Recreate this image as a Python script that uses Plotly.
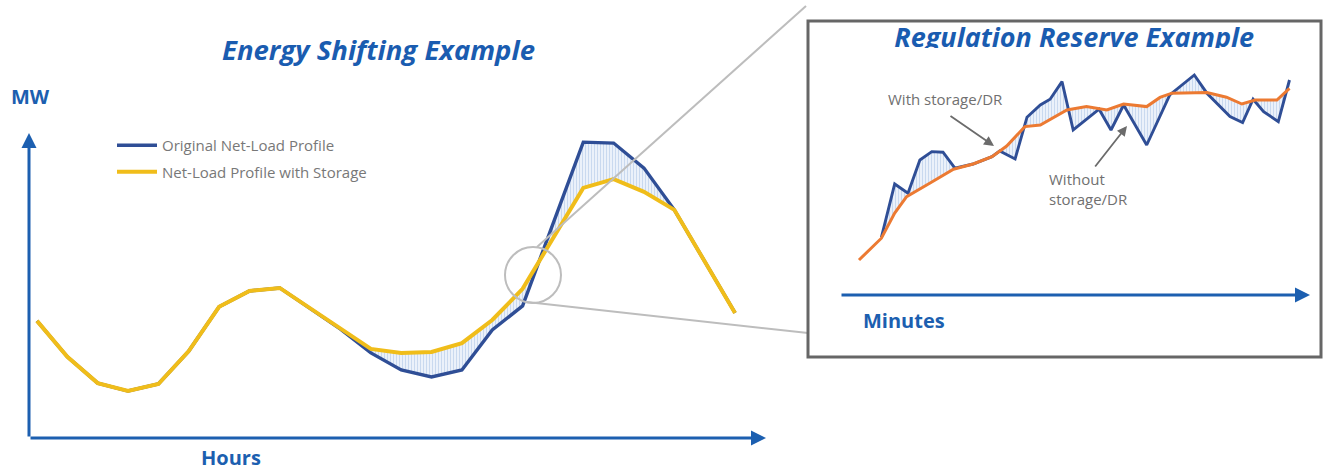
import plotly.graph_objects as go

# ---- Energy shifting (hourly net load, MW index) ----
hours = list(range(24))
net_load_original = [38.4, 26.6, 18.0, 15.4, 17.7, 28.5, 43.0, 48.2, 49.2, 42.6, 35.7,
                     27.9, 22.3, 20.0, 22.3, 35.4, 43.3, 70.2, 97.0, 96.7, 88.5, 74.8, 58.0, 41.0]
net_load_storage = [38.4, 26.6, 18.0, 15.4, 17.7, 28.5, 43.0, 48.2, 49.2, 42.6, 35.7,
                    29.2, 27.9, 28.2, 31.1, 38.7, 48.9, 65.6, 82.0, 84.9, 80.7, 74.8, 58.0, 41.0]

# ---- Regulation reserve (minute-level load) ----
minutes_with = [0.0, 3.2, 5.1, 6.8, 10.1, 13.5, 16.3, 19.0, 21.1, 23.7, 25.9, 29.7, 32.5,
                35.4, 37.8, 41.1, 43.0, 44.7, 49.7, 52.5, 54.7, 56.6, 59.7, 61.5]
load_with = [20.0, 30.9, 43.5, 51.7, 58.4, 65.4, 68.0, 71.7, 77.0, 86.7, 87.5, 95.0, 96.7,
             95.0, 98.0, 96.7, 101.3, 103.4, 103.7, 101.4, 98.0, 100.0, 100.0, 105.8]
minutes_without = [3.2, 5.1, 7.0, 8.7, 10.4, 12.0, 13.7, 16.3, 19.0, 20.1, 22.3, 24.0, 25.9,
                   27.3, 29.0, 30.6, 34.3, 36.0, 37.8, 41.1, 44.4, 46.3, 47.9, 49.7, 53.0,
                   54.8, 56.3, 57.8, 59.9, 61.5]
load_without = [31.3, 58.0, 53.4, 70.0, 74.2, 73.9, 65.9, 68.0, 71.7, 74.5, 70.5, 91.4, 97.5,
                100.4, 109.2, 85.0, 95.4, 85.0, 97.5, 77.5, 102.5, 108.0, 112.5, 103.4, 91.7,
                88.7, 100.4, 94.2, 89.2, 110.0]

W, H = 1330, 471
AXIS_BLUE = "#1c5fb0"
TITLE_BLUE = "#1a5cb0"
NAVY = "#2f4e96"
GOLD = "#f0bd1a"
ORANGE = "#ec7a32"
GREY_TXT = "#707070"
HATCH = dict(shape="|", fgcolor="rgba(120,160,215,0.6)", bgcolor="rgba(222,232,247,0.6)",
             size=3, solidity=0.35)


def px(x):
    return x / W


def py(y):
    return 1 - y / H


fig = go.Figure()

# left panel: hourly profiles (hatched band drawn by a line-less helper trace)
fig.add_trace(go.Scatter(x=hours, y=net_load_original, mode="lines", name="Original Net-Load Profile",
                         line=dict(color=NAVY, width=3.4), xaxis="x", yaxis="y", legendgroup="a"))
fig.add_trace(go.Scatter(x=hours, y=net_load_storage, mode="lines", showlegend=False, hoverinfo="skip",
                         line=dict(width=0), fill="tonexty", fillcolor="rgba(0,0,0,0)",
                         fillpattern=HATCH, xaxis="x", yaxis="y"))
fig.add_trace(go.Scatter(x=hours, y=net_load_storage, mode="lines", name="Net-Load Profile with Storage",
                         line=dict(color=GOLD, width=4), xaxis="x", yaxis="y", legendgroup="b"))

# right panel: minute-level profiles
fig.add_trace(go.Scatter(x=minutes_without, y=load_without, mode="lines", showlegend=False,
                         line=dict(color=NAVY, width=2.9), xaxis="x2", yaxis="y2"))
fig.add_trace(go.Scatter(x=minutes_with, y=load_with, mode="lines", showlegend=False,
                         line=dict(color=ORANGE, width=3), fill="tonexty", fillcolor="rgba(0,0,0,0)",
                         fillpattern=HATCH, xaxis="x2", yaxis="y2"))

# right panel title, clipped along its baseline by its own small axes box
fig.add_trace(go.Scatter(x=[0.519], y=[0.31], mode="text", text=["<b><i>Regulation Reserve Example</i></b>"],
                         textposition="middle center", showlegend=False, cliponaxis=True, hoverinfo="skip",
                         textfont=dict(family="Open Sans", size=27, color=TITLE_BLUE),
                         xaxis="x3", yaxis="y3"))

hidden = dict(showgrid=False, zeroline=False, showticklabels=False, showline=False, ticks="")

fig.update_layout(
    width=W, height=H, margin=dict(l=0, r=0, t=0, b=0),
    paper_bgcolor="white", plot_bgcolor="rgba(0,0,0,0)",
    font=dict(family="Open Sans", color=GREY_TXT),
    xaxis=dict(domain=[px(29), px(766)], range=[-0.2636, 24.02], **hidden),
    yaxis=dict(domain=[py(438), py(133)], range=[0, 100], **hidden),
    xaxis2=dict(domain=[px(840), px(1305)], range=[(840 - 859) / 7, (1305 - 859) / 7],
                anchor="y2", **hidden),
    yaxis2=dict(domain=[py(300), py(60)], range=[0, 120], anchor="x2", **hidden),
    xaxis3=dict(domain=[px(811), px(1318)], range=[0, 1], anchor="y3", **hidden),
    yaxis3=dict(domain=[py(48), py(24)], range=[0, 1], anchor="x3", **hidden),
    showlegend=True,
    legend=dict(x=px(112), y=py(129), xanchor="left", yanchor="top", bgcolor="rgba(0,0,0,0)",
                font=dict(family="Open Sans", size=15, color="#787878"), tracegroupgap=4,
                itemwidth=40),
)

shapes = [
    # zoom lens and connector lines
    dict(type="circle", xref="paper", yref="paper", x0=px(505), x1=px(561), y0=py(303), y1=py(247),
         line=dict(color="#bdbdbd", width=2)),
    dict(type="line", xref="paper", yref="paper", x0=px(537), y0=py(247), x1=px(806), y1=py(6),
         line=dict(color="#bdbdbd", width=2)),
    dict(type="line", xref="paper", yref="paper", x0=px(527), y0=py(302), x1=px(808), y1=py(333),
         line=dict(color="#bdbdbd", width=2)),
    # inset frame
    dict(type="rect", xref="paper", yref="paper", x0=px(808), x1=px(1321), y0=py(357), y1=py(21),
         line=dict(color="#666666", width=3), fillcolor="rgba(0,0,0,0)"),
]
fig.update_layout(shapes=shapes)

ann = []


def arrow(x0, y0, x1, y1, color, width, size):
    ann.append(dict(xref="paper", yref="paper", x=px(x1), y=py(y1), ax=x0 - x1, ay=y0 - y1,
                    text="", showarrow=True, arrowhead=2, arrowsize=size, arrowwidth=width,
                    arrowcolor=color))


def label(x, y, text, size, color=GREY_TXT, anchor="left", yanchor="middle"):
    ann.append(dict(xref="paper", yref="paper", x=px(x), y=py(y), text=text, showarrow=False,
                    xanchor=anchor, yanchor=yanchor, align="left",
                    font=dict(family="Open Sans", size=size, color=color)))


# axes with arrowheads
arrow(29, 438, 766, 438, AXIS_BLUE, 3, 1.0)
arrow(29, 438, 29, 133, AXIS_BLUE, 3, 1.0)
arrow(840, 295, 1310, 295, AXIS_BLUE, 3, 1.0)

# callouts in the inset
arrow(949, 115, 994, 146, "#6b6b6b", 1.8, 1.1)
arrow(1094, 168, 1127, 126, "#6b6b6b", 1.8, 1.1)
label(886, 99, "With storage/DR", 15)
label(1047, 189, "Without<br>storage/DR", 15)

# titles and axis names
label(378, 50, "<b><i>Energy Shifting Example</i></b>", 27.5, TITLE_BLUE, anchor="center")
label(9, 97, "<b>MW</b>", 20, AXIS_BLUE)
label(231, 473, "<b>Hours</b>", 20, AXIS_BLUE, anchor="center", yanchor="bottom")
label(861, 320, "<b>Minutes</b>", 20, AXIS_BLUE)

fig.update_layout(annotations=ann)

fig.write_html("out.html")
